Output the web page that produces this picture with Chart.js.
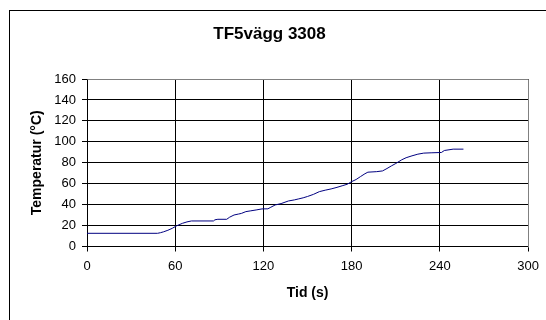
<!DOCTYPE html>
<html>
<head>
<meta charset="utf-8">
<script src="https://cdn.jsdelivr.net/npm/chart.js@4/dist/chart.umd.min.js"></script>
<style>
html,body{margin:0;padding:0;background:#fff;}
canvas{display:block;}
</style>
</head>
<body>
<canvas id="c" width="546" height="320"></canvas>
<script>
const chartTitle = "TF5vägg 3308";
const xTitle = "Tid (s)";
const yTitle = "Temperatur (°C)";
const timeSeconds = [0, 48, 50, 52, 55, 58, 61, 65, 68, 71, 86, 87, 89, 95, 97, 100, 103, 105, 108, 111, 115, 119, 123, 125, 128, 132, 137, 141, 144, 147, 150, 154, 158, 162, 166, 170, 174, 177, 180, 183, 186, 189, 191, 197, 201, 204, 207, 210, 214, 217, 221, 225, 229, 234, 241, 243, 249, 256];
const temperature = [12.6, 12.6, 13.2, 14.0, 15.5, 17.4, 19.8, 22.2, 23.5, 24.4, 24.4, 25.5, 26.0, 26.0, 28.0, 30.1, 31.0, 31.6, 33.3, 34.0, 34.9, 35.9, 36.0, 37.5, 39.7, 41.0, 43.5, 44.5, 45.5, 46.5, 47.8, 49.8, 52.4, 53.8, 55.0, 56.5, 58.2, 59.5, 62.0, 64.0, 66.8, 69.5, 71.0, 71.5, 72.2, 74.5, 77.0, 79.3, 82.8, 84.8, 86.6, 88.2, 89.2, 89.5, 89.8, 91.7, 93.0, 93.0];
const xTicks = [0, 60, 120, 180, 240, 300];
const yTicks = [0, 20, 40, 60, 80, 100, 120, 140, 160];

const points = timeSeconds.map((t, i) => ({x: t, y: temperature[i]}));

const framePlugin = {
  id: 'frame',
  beforeDraw(chart) {
    const ctx = chart.ctx;
    ctx.save();
    ctx.fillStyle = '#fff';
    ctx.fillRect(0, 0, chart.width, chart.height);
    ctx.strokeStyle = '#000';
    ctx.lineWidth = 1;
    ctx.strokeRect(9.5, 10.5, chart.width + 20, chart.height + 20);
    ctx.restore();
  },
  afterDraw(chart) {
    const a = chart.chartArea;
    const ctx = chart.ctx;
    ctx.save();
    ctx.strokeStyle = '#808080';
    ctx.lineWidth = 1;
    ctx.beginPath();
    ctx.moveTo(Math.round(a.left) + 0.5, Math.round(a.top) + 0.5);
    ctx.lineTo(Math.round(a.right) + 0.5, Math.round(a.top) + 0.5);
    ctx.lineTo(Math.round(a.right) + 0.5, Math.round(a.bottom) + 0.5);
    ctx.stroke();
    ctx.restore();
  }
};

new Chart(document.getElementById('c'), {
  type: 'scatter',
  data: {
    datasets: [{
      data: points,
      showLine: true,
      borderColor: '#000080',
      borderWidth: 1,
      pointRadius: 0,
      fill: false,
      tension: 0
    }]
  },
  plugins: [framePlugin],
  options: {
    responsive: false,
    animation: false,
    devicePixelRatio: 1,
    layout: { padding: { left: 8, right: 15, top: 0, bottom: 0 } },
    plugins: {
      legend: { display: false },
      tooltip: { enabled: false },
      title: {
        display: true,
        text: chartTitle,
        color: '#000',
        font: { family: 'Liberation Sans, Arial, sans-serif', size: 17, weight: 'bold', lineHeight: 1.2 },
        padding: { top: 23.8, bottom: 34.8 }
      }
    },
    scales: {
      x: {
        type: 'linear',
        min: 0, max: 300,
        afterBuildTicks(scale) { scale.ticks = xTicks.map(v => ({value: v})); },
        afterFit(scale) { scale.height = 320 - 246.5; },
        ticks: {
          color: '#000',
          font: { family: 'Liberation Sans, Arial, sans-serif', size: 13 },
          padding: 7,
          maxRotation: 0
        },
        grid: { color: '#000', tickColor: '#000', tickLength: 5, lineWidth: 1 },
        border: { display: true, color: '#000', width: 1 },
        title: {
          display: true,
          text: xTitle,
          color: '#000',
          font: { family: 'Liberation Sans, Arial, sans-serif', size: 14, weight: 'bold', lineHeight: 1.2 },
          padding: { top: 0, bottom: 18.6 }
        }
      },
      y: {
        type: 'linear',
        min: 0, max: 160,
        afterBuildTicks(scale) { scale.ticks = yTicks.map(v => ({value: v})); },
        afterFit(scale) { scale.width = 87 - 8; },
        ticks: {
          color: '#000',
          font: { family: 'Liberation Sans, Arial, sans-serif', size: 13 },
          padding: 6
        },
        grid: { color: '#000', tickColor: '#000', tickLength: 5, lineWidth: 1 },
        border: { display: true, color: '#000', width: 1 },
        title: {
          display: true,
          text: yTitle,
          color: '#000',
          font: { family: 'Liberation Sans, Arial, sans-serif', size: 14, weight: 'bold', lineHeight: 1.2 },
          padding: { top: 20.6, bottom: 0 }
        }
      }
    }
  }
});
</script>
</body>
</html>
